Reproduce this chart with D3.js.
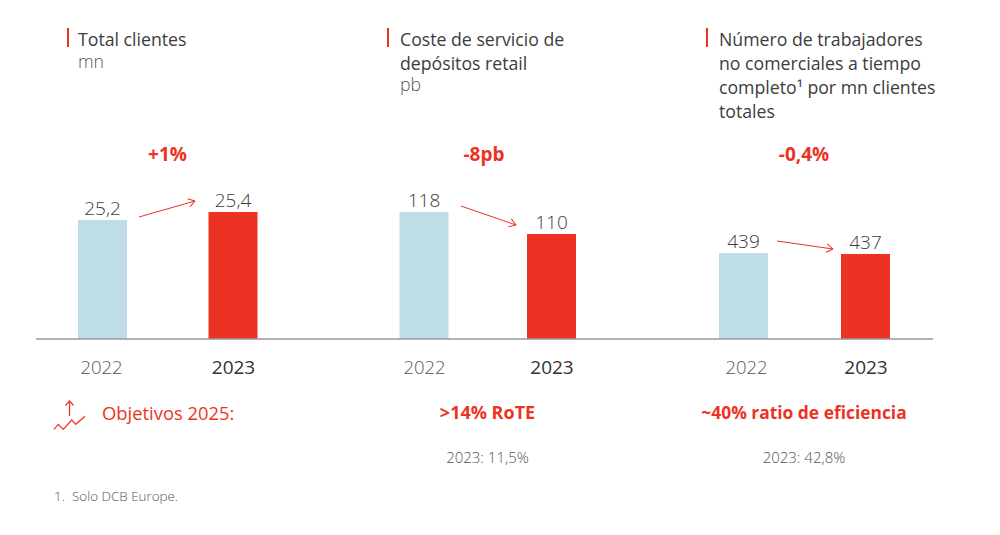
<!DOCTYPE html>
<html>
<head>
<meta charset="utf-8">
<script src="https://cdn.jsdelivr.net/npm/d3@7"></script>
<style>
html, body { margin: 0; padding: 0; background: #fff; }
svg { display: block; }
text { font-family: "Open Sans", sans-serif; }
</style>
</head>
<body>
<div id="chart"></div>
<script>
var width = 1000,
    height = 535;

var red = "#ec3323",
    blue = "#bedde6",
    dark = "#3c3c3c",
    grey = "#555";

var years = ["2022", "2023"];

var clientes = [25.2, 25.4],
    coste = [118, 110],
    trabajadores = [439, 437];

var labelsClientes = ["25,2", "25,4"],
    labelsCoste = ["118", "110"],
    labelsTrabajadores = ["439", "437"];

var titles = [
  ["Total clientes"],
  ["Coste de servicio de", "depósitos retail"],
  ["Número de trabajadores", "no comerciales a tiempo", "completo¹ por mn clientes", "totales"]
];
var units = ["mn", "pb", ""];
var changes = ["+1%", "-8pb", "-0,4%"];
var targets = ["", ">14% RoTE", "~40% ratio de eficiencia"];
var targetNotes = ["", "2023: 11,5%", "2023: 42,8%"];

var baseline = 339;

var panels = [
  {values: clientes, labels: labelsClientes, xr: [102.5, 233], yd: [22.22, 25.4], yr: [baseline, 212], tx: 78, rule: 68, cx: 167.5, tcx: 0, tsize: 0,
    arrow: [36.5, 3, 38, 11], yearDx: -1.5},
  {values: coste, labels: labelsCoste, xr: [424, 551.5], yd: [71.8, 118], yr: [baseline, 212], tx: 400, rule: 388, cx: 484, tcx: 487.5, tsize: 18,
    arrow: [37, 6, 35.5, 9], yearDx: 0},
  {values: trabajadores, labels: labelsTrabajadores, xr: [743.5, 865.5], yd: [267, 439], yr: [baseline, 253], tx: 719, rule: 707, cx: 804, tcx: 804, tsize: 17.4,
    arrow: [33.5, 12, 32.5, 5], yearDx: 2.5}
];

var svg = d3.select("#chart").append("svg")
    .attr("width", width)
    .attr("height", height);

var defs = svg.append("defs");
defs.append("marker")
    .attr("id", "head")
    .attr("markerUnits", "userSpaceOnUse")
    .attr("viewBox", "0 0 8 10")
    .attr("refX", 7.5)
    .attr("refY", 5)
    .attr("markerWidth", 8)
    .attr("markerHeight", 10)
    .attr("orient", "auto")
  .append("path")
    .attr("d", "M1,0.8L7.5,5L1,9.2")
    .attr("fill", "none")
    .attr("stroke", red)
    .attr("stroke-width", 1);

panels.forEach(function(p, i) {
  var g = svg.append("g");

  var x = d3.scalePoint().domain(years).range(p.xr),
      y = d3.scaleLinear().domain(p.yd).range(p.yr);

  // title block
  g.append("rect")
      .attr("x", p.rule - 1)
      .attr("y", 28)
      .attr("width", 2)
      .attr("height", 19)
      .attr("fill", red);

  g.selectAll(".title")
      .data(titles[i])
    .enter().append("text")
      .attr("x", p.tx)
      .attr("y", function(d, j) { return 45.5 + j * 24.2; })
      .attr("font-size", 17.7)
      .attr("fill", dark)
      .text(function(d) { return d; });

  if (units[i]) g.append("text")
      .attr("x", p.tx)
      .attr("y", 45 + titles[i].length * 23)
      .attr("font-size", 17.7)
      .attr("font-weight", 300)
      .attr("fill", grey)
      .text(units[i]);

  g.append("text")
      .attr("x", p.cx)
      .attr("y", 160.5)
      .attr("text-anchor", "middle")
      .attr("font-size", 19)
      .attr("font-weight", 700)
      .attr("fill", red)
      .text(changes[i]);

  // bars
  g.selectAll(".bar")
      .data(p.values)
    .enter().append("rect")
      .attr("x", function(d, j) { return x(years[j]) - 24.5; })
      .attr("y", function(d) { return y(d); })
      .attr("width", 49)
      .attr("height", function(d) { return baseline - y(d); })
      .attr("fill", function(d, j) { return j ? red : blue; });

  g.selectAll(".value")
      .data(p.values)
    .enter().append("text")
      .attr("x", function(d, j) { return x(years[j]); })
      .attr("y", function(d) { return y(d) - 5; })
      .attr("text-anchor", "middle")
      .attr("font-size", 19)
      .attr("font-weight", 300)
      .attr("fill", dark)
      .text(function(d, j) { return p.labels[j]; });

  // change arrow, offsets are from the two bar tops
  g.append("line")
      .attr("x1", x(years[0]) + p.arrow[0])
      .attr("y1", y(p.values[0]) - p.arrow[1])
      .attr("x2", x(years[1]) - p.arrow[2])
      .attr("y2", y(p.values[1]) - p.arrow[3])
      .attr("stroke", red)
      .attr("stroke-width", 1)
      .attr("marker-end", "url(#head)");

  // years
  var axis = g.append("g")
      .attr("transform", "translate(0," + baseline + ")")
      .call(d3.axisBottom(x).tickSize(0).tickPadding(22));
  axis.select(".domain").remove();
  axis.selectAll("text")
      .style("font-family", '"Open Sans", sans-serif')
      .attr("dx", function(d) { return d === "2022" ? p.yearDx : 0; })
      .attr("font-size", function(d) { return d === "2023" ? 19 : 18.5; })
      .attr("font-weight", function(d) { return d === "2023" ? 500 : 300; })
      .attr("fill", function(d) { return d === "2023" ? "#333" : grey; });

  // targets
  if (targets[i]) {
    g.append("text")
        .attr("x", p.tcx)
        .attr("y", 419)
        .attr("text-anchor", "middle")
        .attr("font-size", p.tsize)
        .attr("font-weight", 700)
        .attr("fill", red)
        .text(targets[i]);
    g.append("text")
        .attr("x", p.tcx)
        .attr("y", 463)
        .attr("text-anchor", "middle")
        .attr("font-size", 15)
        .attr("font-weight", 300)
        .attr("fill", grey)
        .text(targetNotes[i]);
  }
});

svg.append("line")
    .attr("x1", 36)
    .attr("x2", 933)
    .attr("y1", baseline)
    .attr("y2", baseline)
    .attr("stroke", "#999")
    .attr("stroke-width", 1.5);

// objetivos icon and label
var icon = svg.append("g")
    .attr("fill", "none")
    .attr("stroke", red)
    .attr("stroke-width", 1.2);
icon.append("path").attr("d", "M69.5,416V401.5M65.5,405.5L69.5,401L73.5,405.5");
icon.append("path").attr("d", "M54,429.3L58.3,424.3L63.3,429.3L71.7,420L75.7,424.3L85,416.3");

svg.append("text")
    .attr("x", 102)
    .attr("y", 420)
    .attr("font-size", 18.4)
    .attr("fill", red)
    .text("Objetivos 2025:");

svg.append("text")
    .attr("x", 54)
    .attr("y", 501)
    .attr("font-size", 13.4)
    .attr("font-weight", 300)
    .attr("fill", grey)
    .text("1.");
svg.append("text")
    .attr("x", 72)
    .attr("y", 501)
    .attr("font-size", 13.4)
    .attr("font-weight", 300)
    .attr("fill", grey)
    .text("Solo DCB Europe.");
</script>
</body>
</html>
